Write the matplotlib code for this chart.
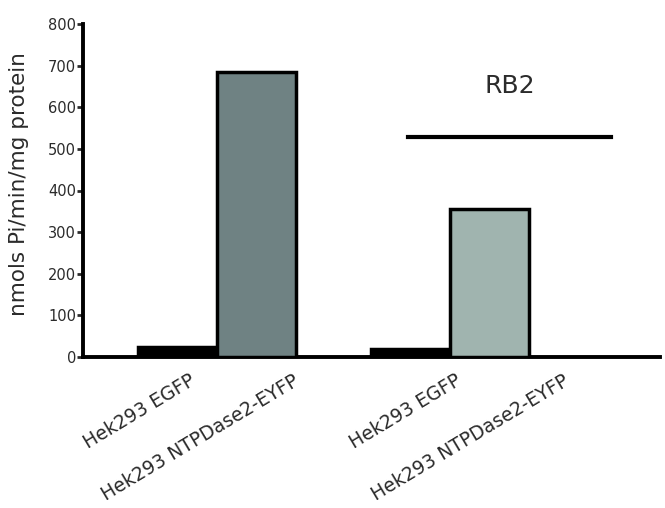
import matplotlib
matplotlib.use("Agg")
import matplotlib.pyplot as plt
from matplotlib.transforms import ScaledTranslation

# ── Data ──────────────────────────────────────────────────────────────────────
labels = ["Hek293 EGFP", "Hek293 NTPDase2-EYFP",
          "Hek293 EGFP", "Hek293 NTPDase2-EYFP"]
values = [25, 685, 19, 356]
positions = [0, 1, 2.95, 3.95]
colors = ["#000000", "#6f8283", "#000000", "#a0b4af"]
rb2_level = 528
rb2_span = [2.92, 5.48]

plt.rcParams["font.family"] = ["DejaVu Sans"]
TXT = "#2b2b2b"

fig = plt.figure(figsize=(6.65, 5.08), dpi=100)
ax = fig.add_axes([0.125, 0.297, 0.867, 0.656])

ax.bar(positions, values, width=1.0, color=colors, edgecolor="black",
       linewidth=2.5, zorder=3)

ax.plot(rb2_span, [rb2_level, rb2_level], color="black", lw=3)
ax.text(4.2, 650, "RB2", ha="center", va="center", fontsize=18, color=TXT)

ax.set_xlim(-1.19, 6.1)
ax.set_ylim(0, 800)
ax.set_yticks(range(0, 801, 100))
ax.tick_params(axis="y", labelsize=10.5, width=2, length=4, direction="out",
               colors=TXT, pad=1)
ax.set_xticks(positions)
ax.set_xticklabels(labels, rotation=31, ha="right", va="baseline",
                   rotation_mode="anchor", fontsize=13.5, color=TXT)
ax.tick_params(axis="x", length=0, pad=0)

# labels sit to the right of the bar centres, as in the original layout
shifts_px = [20, 44, 52, 81]
for lab, dx in zip(ax.get_xticklabels(), shifts_px):
    lab.set_transform(lab.get_transform() +
                      ScaledTranslation(dx / 100, -27 / 100, fig.dpi_scale_trans))

for s in ("top", "right"):
    ax.spines[s].set_visible(False)
for s in ("left", "bottom"):
    ax.spines[s].set_linewidth(2.8)

ax.set_ylabel("nmols Pi/min/mg protein", fontsize=15.5, color=TXT)
ax.yaxis.set_label_coords(-0.094, 0.52)

fig.savefig("out.png", dpi=100)
